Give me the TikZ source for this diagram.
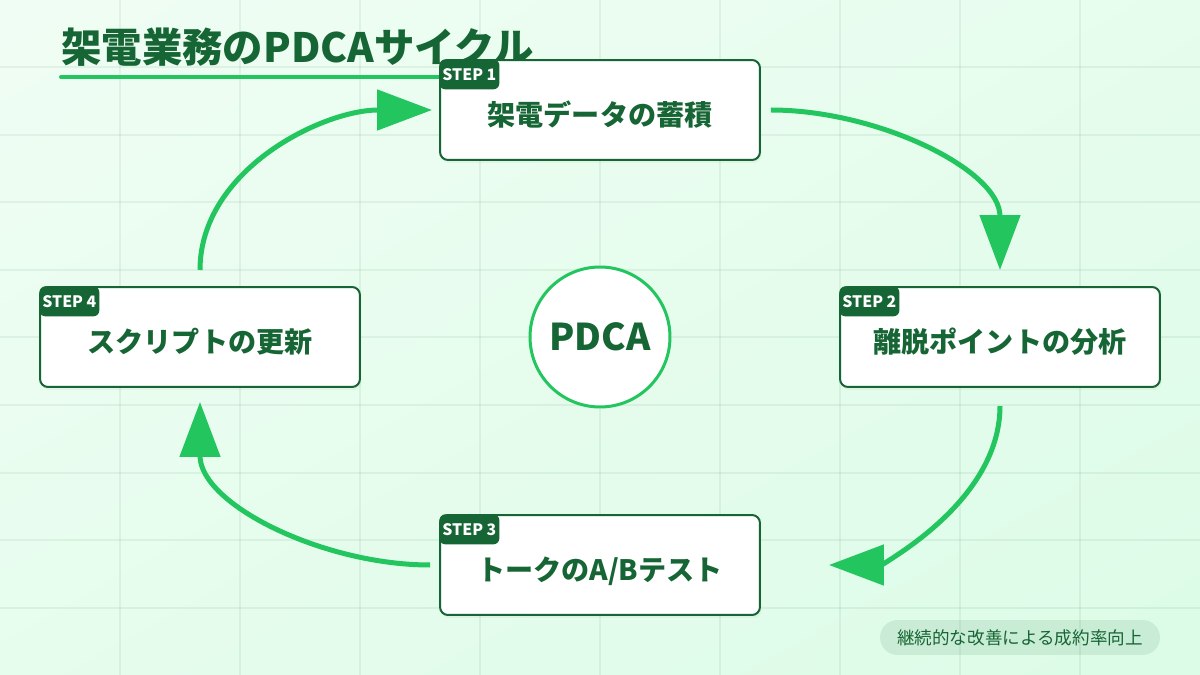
\documentclass[tikz,border=0pt]{standalone}
\usepackage{fontspec}
\setmainfont{Noto Sans CJK JP}
\usepackage{xcolor}
\usetikzlibrary{arrows.meta, positioning, shadings, shadows}
\definecolor{verdeescuro}{RGB}{22,101,52}
\definecolor{verde}{RGB}{34,197,94}
\definecolor{fundoclaro}{RGB}{240,253,244}
\definecolor{fundo}{RGB}{220,252,231}

\begin{document}
\begin{tikzpicture}[
  x=0.02cm, y=0.02cm,
  etapa/.style={draw=verdeescuro, line width=0.04cm, fill=white, rounded corners=0.16cm,
                minimum width=6.4cm, minimum height=2cm, align=center,
                font=\fontsize{16}{18}\selectfont\bfseries, text=verdeescuro,
                text height=0.69cm, text depth=0.06cm,
                drop shadow={shadow xshift=0.03cm, shadow yshift=-0.06cm, opacity=0.07}},
  selo/.style={fill=verdeescuro, rounded corners=0.12cm, minimum width=1.2cm,
               minimum height=0.6cm, inner sep=0pt, anchor=north west,
               text=white, font=\fontsize{9}{10}\selectfont\bfseries},
  central/.style={circle, draw=verde, line width=0.06cm, fill=white, minimum size=2.8cm,
                  font=\fontsize{21}{24}\selectfont\bfseries, text=verdeescuro},
  seta/.style={-{Triangle[length=1.1cm, width=0.8cm]}, line width=0.1cm, draw=verde},
  grade/.style={draw=verdeescuro, draw opacity=0.07, line width=0.04cm},
  nota/.style={fill=verdeescuro, fill opacity=0.1, text opacity=1, rounded corners=0.35cm,
               minimum width=5.6cm, minimum height=0.7cm, text=verdeescuro,
               font=\fontsize{10}{12}\selectfont}
]
\useasboundingbox (0,0) rectangle (1200,-675);

% fundo e grade
\shade[upper left=fundoclaro, lower right=fundo, upper right=fundoclaro!50!fundo,
       lower left=fundoclaro!50!fundo] (0,0) rectangle (1200,-675);
\foreach \i in {1,...,9} {
  \draw[grade] (120*\i,0) -- (120*\i,-675);
  \draw[grade] (0,-67.5*\i) -- (1200,-67.5*\i);
}

% titulo
\node[anchor=base west, inner sep=0pt, text=verdeescuro,
      font=\fontsize{23}{26}\selectfont\bfseries] (titulo) at (61,-63) {架電業務のPDCAサイクル};
\coordinate (sublinha) at (480,-77);
\draw[verde, line width=0.08cm, line cap=round] (titulo.west |- sublinha) -- (sublinha);

% etapas
\node[etapa] (s1) at (600,-110) {架電データの蓄積};
\node[etapa] (s2) at (1000,-337) {離脱ポイントの分析};
\node[etapa] (s3) at (600,-565) {トークのA/Bテスト};
\node[etapa] (s4) at (200,-337) {スクリプトの更新};

\node[selo] (b1) at (s1.north west) {STEP 1};
\node[selo] (b2) at (s2.north west) {STEP 2};
\node[selo] (b3) at (s3.north west) {STEP 3};
\node[selo] (b4) at (s4.north west) {STEP 4};

\node[central] (pdca) at (600,-337) {PDCA};

% ciclo
\draw[seta, shorten <=0.2cm, shorten >=0.32cm] (s1.east) to[out=0, in=90] (s2.north);
\draw[seta, shorten <=0.36cm, shorten >=1.36cm] (s2.south) to[out=-90, in=0] (s3.east);
\draw[seta, shorten <=0.18cm, shorten >=0.28cm] (s3.west) to[out=180, in=-90] (s4.south);
\draw[seta, shorten <=0.32cm, shorten >=0.14cm] (s4.north) to[out=90, in=180] (s1.west);

\node[nota] (nota) at (1020,-637.5) {継続的な改善による成約率向上};

\end{tikzpicture}
\end{document}
